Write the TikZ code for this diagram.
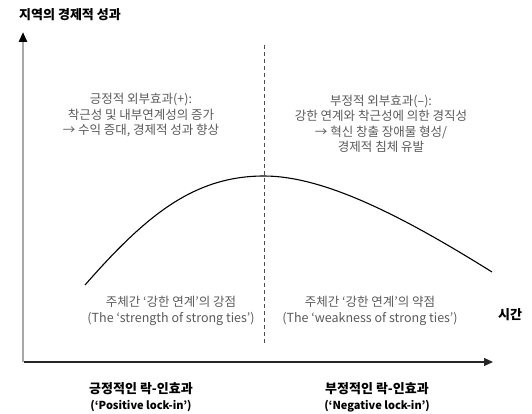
\documentclass[tikz,border=0pt]{standalone}
\usepackage{fontspec}
\setmainfont{Noto Sans CJK KR}
\usetikzlibrary{arrows.meta}
\definecolor{textgray}{HTML}{5A5A5A}
\definecolor{axisgray}{HTML}{A8A8A8}

\begin{document}
\begin{tikzpicture}[x=1pt,y=-1pt,
        note/.style={text=textgray,font=\fontsize{12.5}{15.5}\selectfont,align=center},
        head/.style={font=\fontsize{13}{16}\selectfont\bfseries,align=center}]
        \useasboundingbox (0,0) rectangle (532,414);
        % axes
        \coordinate (origin) at (23,362);
        \coordinate (ytop) at (23,32);
        \coordinate (xstart) at (24.2,362);
        \coordinate (xend) at (493,362);
        \draw [axisgray,line width=2.5pt,-{Triangle[length=10pt,width=8pt,color=black]}] (origin) -- (ytop);
        \draw [black!85,line width=1.2pt,-{Triangle[length=9pt,width=8pt]}] (xstart) -- (xend);
        % divide
        \coordinate (dtop) at (264,45);
        \coordinate (dbot) at (264,345);
        \draw [black!70,line width=1pt,dash pattern=on 4pt off 3pt] (dtop) -- (dbot);
        % curve
        \coordinate (cstart) at (85,285);
        \coordinate (peak) at (264,176);
        \coordinate (cend) at (492,272);
        \draw [line width=1.1pt] (cstart) .. controls (145,216.6) and (193,176) .. (peak)
              .. controls (324,176) and (402,215.75) .. (cend);
        % labels
        \node [head] (title) at (70,15) {지역의 경제적 성과};
        \node [head] (time) at (510,315) {시간};
        \node [note] (posext) at (141,115.5) {긍정적 외부효과(+):\\착근성 및 내부연계성의 증가\\→ 수익 증대, 경제적 성과 향상};
        \node [note] (negext) at (381,124) {부정적 외부효과(–):\\강한 연계와 착근성에 의한 경직성\\→ 혁신 창출 장애물 형성/\\경제적 침체 유발};
        \node [note] (strong) at (171,311) {주체간 ‘강한 연계’의 강점\\(The ‘strength of strong ties’)};
        \node [note] (weak) at (370,311) {주체간 ‘강한 연계’의 약점\\(The ‘weakness of strong ties’)};
        \node [head] (poslock) at (141,397) {긍정적인 락-인효과\\{\fontsize{11}{16}\selectfont(‘Positive lock-in’)}};
        \node [head] (neglock) at (377,397) {부정적인 락-인효과\\{\fontsize{11}{16}\selectfont(‘Negative lock-in’)}};
\end{tikzpicture}
\end{document}
